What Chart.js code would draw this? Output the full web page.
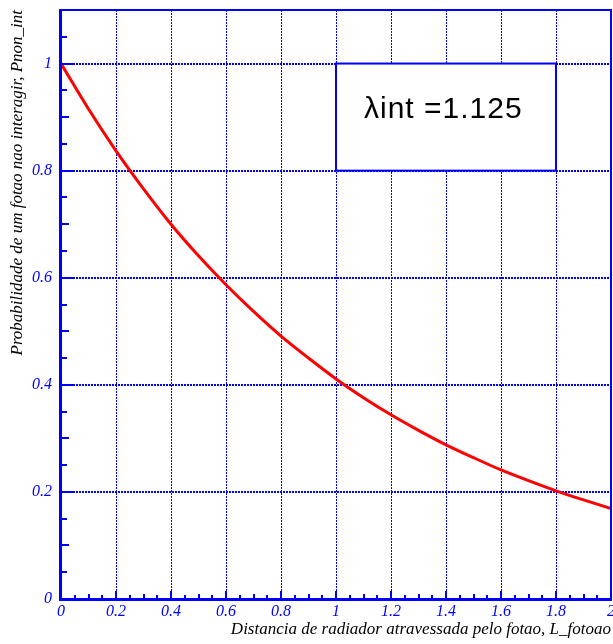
<!DOCTYPE html>
<html>
<head>
<meta charset="utf-8">
<script src="https://cdn.jsdelivr.net/npm/chart.js@4/dist/chart.umd.min.js"></script>
<style>
  html, body { margin: 0; padding: 0; background: #ffffff; }
  #wrap { width: 613px; height: 644px; }
</style>
</head>
<body>
<div id="wrap"><canvas id="c" width="613" height="644"></canvas></div>
<script>
// Distance travelled through the radiator (x) and survival probability (y)
const distance = [0.0, 0.1, 0.2, 0.3, 0.4, 0.5, 0.6, 0.7, 0.8, 0.9, 1.0,
                  1.1, 1.2, 1.3, 1.4, 1.5, 1.6, 1.7, 1.8, 1.9, 2.0];
const probability = [1.000, 0.915, 0.837, 0.766, 0.700, 0.641, 0.587, 0.537, 0.491, 0.450, 0.411,
                     0.376, 0.344, 0.315, 0.288, 0.264, 0.241, 0.221, 0.202, 0.185, 0.169];

const xTickValues = [0, 0.2, 0.4, 0.6, 0.8, 1, 1.2, 1.4, 1.6, 1.8, 2];
const xTickLabels = ['0', '0.2', '0.4', '0.6', '0.8', '1', '1.2', '1.4', '1.6', '1.8', '2'];
const yTickValues = [0, 0.2, 0.4, 0.6, 0.8, 1];
const yTickLabels = ['0', '0.2', '0.4', '0.6', '0.8', '1'];

const xTitle = 'Distancia de radiador atravessada pelo fotao, L_fotoao';
const yTitle = 'Probabilidade de um fotao nao interagir, Pnon_int';
const lambdaLabel = '\u03bbint =1.125';

const BLUE = '#0000ff';
const RED = '#ff0000';

// Frame, inward tick marks and the parameter box
const framePlugin = {
  id: 'rootFrame',
  afterDraw(chart, args, opts) {
    const { ctx, chartArea: a } = chart;
    const xs = chart.scales.x, ys = chart.scales.y;
    ctx.save();
    ctx.strokeStyle = BLUE;

    // inward ticks on the left axis (every 0.05)
    ctx.lineWidth = 2;
    for (let i = 0; i <= 22; i++) {
      const v = i * 0.05;
      const py = Math.round(ys.getPixelForValue(v));
      const len = i % 4 === 0 ? 12 : (i % 2 === 0 ? 8 : 6);
      ctx.beginPath();
      ctx.moveTo(a.left, py);
      ctx.lineTo(a.left + len, py);
      ctx.stroke();
    }
    // inward ticks on the bottom axis (every 0.05)
    for (let i = 0; i <= 40; i++) {
      const v = i * 0.05;
      const px = Math.round(xs.getPixelForValue(v));
      const len = i % 4 === 0 ? 8 : (i % 2 === 0 ? 5 : 4);
      ctx.beginPath();
      ctx.moveTo(px, a.bottom);
      ctx.lineTo(px, a.bottom - len);
      ctx.stroke();
    }

    // frame: heavy left/bottom axes, lighter top/right edges
    ctx.lineWidth = 2;
    ctx.beginPath();
    ctx.moveTo(a.left, a.top);
    ctx.lineTo(a.right, a.top);
    ctx.lineTo(a.right, a.bottom);
    ctx.stroke();
    ctx.lineWidth = 3;
    ctx.beginPath();
    ctx.moveTo(a.left - 0.5, a.top - 1);
    ctx.lineTo(a.left - 0.5, a.bottom + 0.5);
    ctx.lineTo(a.right + 1, a.bottom + 0.5);
    ctx.stroke();

    // parameter box
    const bx0 = xs.getPixelForValue(opts.box.x0);
    const bx1 = xs.getPixelForValue(opts.box.x1);
    const by0 = ys.getPixelForValue(opts.box.y1);
    const by1 = ys.getPixelForValue(opts.box.y0);
    ctx.fillStyle = '#ffffff';
    ctx.fillRect(bx0, by0, bx1 - bx0, by1 - by0);
    ctx.lineWidth = 2;
    ctx.strokeRect(bx0, by0, bx1 - bx0, by1 - by0);

    ctx.fillStyle = '#000000';
    ctx.font = '30px "Liberation Sans", Arial, sans-serif';
    ctx.letterSpacing = '1px';
    ctx.textAlign = 'left';
    ctx.textBaseline = 'alphabetic';
    ctx.fillText(lambdaLabel, bx0 + 28, by0 + 54);
    ctx.restore();
  }
};

const tickFont = { family: '"Liberation Serif", "Times New Roman", serif', style: 'italic', size: 16 };
const titleFont = { family: '"Liberation Serif", "Times New Roman", serif', style: 'italic', size: 17 };

new Chart(document.getElementById('c'), {
  type: 'line',
  data: {
    datasets: [{
      data: distance.map((x, i) => ({ x, y: probability[i] })),
      borderColor: RED,
      borderWidth: 3,
      pointRadius: 0,
      fill: false,
      cubicInterpolationMode: 'monotone'
    }]
  },
  options: {
    responsive: false,
    animation: false,
    devicePixelRatio: 1,
    layout: { padding: { top: 10, right: 2, left: 0, bottom: 0 } },
    plugins: {
      legend: { display: false },
      tooltip: { enabled: false },
      rootFrame: { box: { x0: 1.0, x1: 1.8, y0: 0.8, y1: 1.0 } }
    },
    scales: {
      x: {
        type: 'linear',
        min: 0,
        max: 2,
        afterBuildTicks: s => { s.ticks = xTickValues.map(v => ({ value: v })); },
        afterFit: s => { s.height = 45; s.paddingLeft = 0; s.paddingRight = 0; },
        ticks: {
          callback: (v, i) => xTickLabels[i],
          color: BLUE,
          font: tickFont,
          padding: 3,
          maxRotation: 0,
          autoSkip: false
        },
        grid: { color: BLUE, lineWidth: 1, drawTicks: false },
        border: { display: false, dash: [2, 1] },
        title: {
          display: true,
          text: xTitle,
          align: 'end',
          color: '#000000',
          font: titleFont,
          padding: { top: 0, bottom: 4 }
        }
      },
      y: {
        type: 'linear',
        min: 0,
        max: 1.1,
        afterBuildTicks: s => { s.ticks = yTickValues.map(v => ({ value: v })); },
        afterFit: s => { s.width = 61; s.paddingTop = 0; s.paddingBottom = 0; },
        ticks: {
          callback: (v, i) => yTickLabels[i],
          color: BLUE,
          font: tickFont,
          padding: 9
        },
        grid: { color: BLUE, lineWidth: 2, drawTicks: false },
        border: { display: false, dash: [2, 1] },
        title: {
          display: true,
          text: yTitle,
          align: 'end',
          color: '#000000',
          font: titleFont,
          padding: { top: 7, bottom: 0 }
        }
      }
    }
  },
  plugins: [framePlugin]
});
</script>
</body>
</html>
